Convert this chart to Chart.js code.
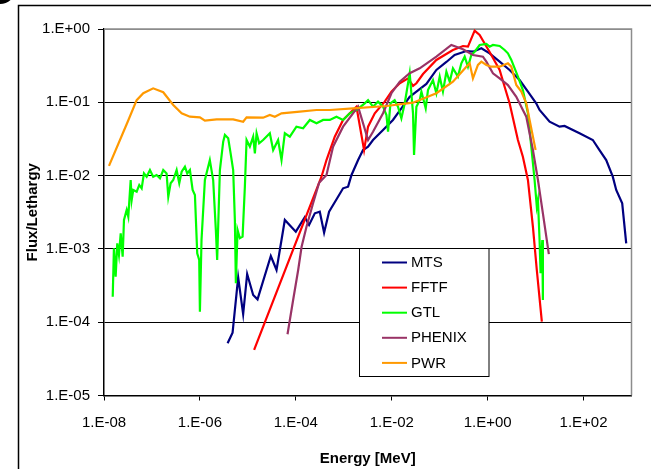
<!DOCTYPE html>
<html>
<head>
<meta charset="utf-8">
<script src="https://cdn.jsdelivr.net/npm/chart.js@4.4.1/dist/chart.umd.min.js"></script>
<style>
  html, body { margin: 0; padding: 0; background: #fff; }
  #wrap { position: relative; width: 651px; height: 469px; overflow: hidden; }
  canvas { position: absolute; left: 0; top: 0; }
</style>
</head>
<body>
<div id="wrap"><canvas id="c" width="651" height="469"></canvas></div>
<script>
// ---- Data ----
const seriesNames  = ['MTS', 'FFTF', 'GTL', 'PHENIX', 'PWR'];
const seriesColors = ['#000080', '#FF0000', '#00FF00', '#993366', '#FF9900'];

const mtsEnergy = [3.78e-6,4.80e-6,6.28e-6,7.98e-6,9.67e-6,1.29e-5,1.59e-5,3.01e-5,3.96e-5,5.90e-5,1.0e-4,1.54e-4,1.89e-4,2.49e-4,3.16e-4,3.89e-4,4.94e-4,7.60e-4,9.67e-4,1.23e-3,1.45e-3,1.99e-3,2.52e-3,3.21e-3,4.07e-3,6.59e-3,0.0106,0.0159,0.0237,0.0327,0.0528,0.0853,0.138,0.205,0.360,0.494,0.740,1.10,1.78,2.87,4.64,6.92,10.3,12.1,19.6,31.6,40.2,82.5,156,215,297,407,480,640,776];
const mtsFlux   = [5.15e-5,7.19e-5,4.09e-4,1.29e-4,4.55e-4,2.35e-4,2.05e-4,8.0e-4,5.15e-4,2.48e-3,1.72e-3,2.70e-3,2.12e-3,3.06e-3,3.22e-3,1.66e-3,3.22e-3,5.15e-3,6.71e-3,7.06e-3,0.0102,0.0163,0.0223,0.0248,0.0306,0.0419,0.0574,0.0828,0.119,0.140,0.178,0.276,0.355,0.442,0.501,0.490,0.545,0.466,0.358,0.276,0.201,0.140,0.0969,0.0785,0.0543,0.0465,0.0475,0.0378,0.0306,0.0223,0.0163,9.66e-3,6.36e-3,4.19e-3,1.19e-3];

const fftfEnergy = [1.35e-5,3.43e-4,4.36e-4,6.49e-4,9.67e-4,1.56e-3,1.84e-3,2.65e-3,3.21e-3,4.43e-3,7.14e-3,9.86e-3,0.0147,0.0219,0.0278,0.0327,0.0449,0.0853,0.189,0.306,0.389,0.536,0.681,1.10,1.78,2.26,2.87,3.37,4.28,5.43,6.92,8.79,10.6,13.5];
const fftfFlux   = [4.18e-5,9.66e-3,0.0163,0.0340,0.0574,0.0785,0.0871,0.0223,0.0465,0.0708,0.102,0.140,0.182,0.212,0.167,0.182,0.243,0.378,0.517,0.586,0.574,0.948,0.828,0.485,0.276,0.163,0.0969,0.0611,0.0306,0.0181,8.71e-3,2.01e-3,5.15e-4,1.02e-4];

const gtlEnergy = [1.52e-8,1.61e-8,1.75e-8,1.89e-8,2.05e-8,2.23e-8,2.45e-8,2.61e-8,2.97e-8,3.21e-8,3.60e-8,3.78e-8,4.07e-8,4.80e-8,5.44e-8,6.10e-8,6.81e-8,7.76e-8,9.08e-8,1.06e-7,1.25e-7,1.47e-7,1.72e-7,2.02e-7,2.19e-7,2.45e-7,2.78e-7,3.27e-7,3.71e-7,4.16e-7,4.87e-7,5.44e-7,6.19e-7,7.05e-7,7.87e-7,8.79e-7,9.67e-7,1.0e-6,1.08e-6,1.27e-6,1.61e-6,1.89e-6,2.15e-6,2.29e-6,2.61e-6,3.06e-6,3.32e-6,3.89e-6,4.37e-6,4.94e-6,5.36e-6,5.62e-6,6.10e-6,6.81e-6,7.76e-6,8.66e-6,9.40e-6,1.10e-5,1.29e-5,1.40e-5,1.52e-5,1.72e-5,2.08e-5,2.87e-5,3.37e-5,4.27e-5,5.03e-5,5.90e-5,7.50e-5,1.03e-4,1.42e-4,1.96e-4,2.70e-4,3.71e-4,5.11e-4,7.04e-4,9.67e-4,1.33e-3,1.84e-3,2.74e-3,3.21e-3,4.07e-3,5.18e-3,6.59e-3,7.76e-3,8.38e-3,9.40e-3,0.0115,0.0135,0.0159,0.0187,0.0237,0.0278,0.0292,0.0327,0.0383,0.0416,0.0511,0.0570,0.0724,0.0853,0.100,0.117,0.138,0.162,0.189,0.240,0.283,0.332,0.389,0.457,0.536,0.681,0.940,1.10,1.29,1.78,2.26,2.65,3.12,4.28,5.43,6.92,8.13,9.53,10.6,11.2,12.1,12.7,13.8,14.2];
const gtlFlux   = [2.23e-4,1.02e-3,4.18e-4,1.19e-3,8.26e-4,1.63e-3,7.83e-4,2.48e-3,3.40e-3,2.75e-3,8.71e-3,4.65e-3,6.36e-3,6.03e-3,7.45e-3,6.71e-3,0.0107,9.66e-3,0.0119,9.66e-3,0.0102,9.19e-3,0.0119,0.0107,5.15e-3,7.85e-3,8.71e-3,0.0119,7.85e-3,0.0113,0.0132,0.0107,0.0119,6.36e-3,5.44e-3,8.71e-4,7.06e-4,1.39e-4,1.32e-3,8.71e-3,0.0163,8.71e-3,1.81e-3,7.06e-4,0.0119,0.0290,0.0358,0.0323,0.0201,0.0119,2.48e-3,3.40e-4,1.81e-3,1.40e-3,1.47e-3,7.06e-3,0.0306,0.0248,0.0340,0.0201,0.0378,0.0276,0.0306,0.0378,0.0223,0.0306,0.0163,0.0378,0.0340,0.0465,0.0442,0.0574,0.0517,0.0574,0.0574,0.0636,0.0574,0.0708,0.0785,0.0969,0.107,0.0871,0.102,0.0871,0.0671,0.0397,0.0969,0.107,0.0871,0.0605,0.0969,0.249,0.0708,0.0191,0.0871,0.107,0.140,0.0828,0.147,0.201,0.133,0.224,0.140,0.261,0.191,0.291,0.224,0.340,0.419,0.306,0.442,0.490,0.605,0.624,0.574,0.605,0.586,0.517,0.466,0.378,0.224,0.147,0.0708,0.0248,8.71e-3,3.77e-3,4.65e-3,1.32e-3,4.65e-4,1.32e-3,2.01e-4];

const phenixEnergy = [6.71e-5,8.79e-5,1.12e-4,1.32e-4,1.67e-4,2.29e-4,3.06e-4,4.36e-4,5.98e-4,9.67e-4,1.56e-3,1.99e-3,3.21e-3,4.07e-3,6.59e-3,9.86e-3,0.0147,0.0237,0.0383,0.0853,0.175,0.306,0.494,0.798,0.940,1.29,1.78,2.65,3.96,5.43,6.40,8.79,11.2,14.2,18.9];
const phenixFlux   = [6.84e-5,2.01e-4,5.15e-4,1.07e-3,2.01e-3,4.19e-3,8.0e-3,0.0102,0.0248,0.0465,0.0708,0.0871,0.0306,0.0397,0.0708,0.133,0.191,0.249,0.291,0.419,0.605,0.528,0.442,0.419,0.358,0.249,0.212,0.172,0.119,0.0785,0.0636,0.0223,8.71e-3,3.06e-3,8.51e-4];

const pwrEnergy = [1.27e-8,3.12e-8,4.80e-8,6.59e-8,1.06e-7,1.72e-7,2.78e-7,4.16e-7,6.19e-7,1.0e-6,1.27e-6,2.23e-6,4.94e-6,7.98e-6,9.40e-6,2.08e-5,2.87e-5,3.65e-5,5.03e-5,1.21e-4,2.70e-4,5.11e-4,1.56e-3,7.76e-3,0.0278,0.0853,0.189,0.360,0.422,0.494,0.628,0.740,0.940,1.19,1.78,2.65,3.12,3.96,5.04,6.40,7.50,10.0];
const pwrFlux   = [0.0136,0.0543,0.107,0.133,0.155,0.137,0.0919,0.0708,0.0636,0.0624,0.0561,0.0586,0.0586,0.0543,0.0624,0.0617,0.0671,0.0636,0.0708,0.0745,0.0785,0.0785,0.0828,0.0891,0.0988,0.133,0.191,0.306,0.340,0.212,0.323,0.358,0.323,0.306,0.306,0.340,0.306,0.172,0.140,0.0969,0.0574,0.0223];

const xTickValues = [1e-8, 1e-6, 1e-4, 1e-2, 1e0, 1e2];
const xTickLabels = ['1.E-08', '1.E-06', '1.E-04', '1.E-02', '1.E+00', '1.E+02'];
const yTickValues = [1e-5, 1e-4, 1e-3, 1e-2, 1e-1, 1e0];
const yTickLabels = ['1.E-05', '1.E-04', '1.E-03', '1.E-02', '1.E-01', '1.E+00'];

const xTitle = 'Energy [MeV]';
const yTitle = 'Flux/Lethargy';

// ---- Build chart ----
const pairs = (xs, ys) => xs.map((x, i) => ({ x: x, y: ys[i] }));
const seriesData = [
  pairs(mtsEnergy, mtsFlux),
  pairs(fftfEnergy, fftfFlux),
  pairs(gtlEnergy, gtlFlux),
  pairs(phenixEnergy, phenixFlux),
  pairs(pwrEnergy, pwrFlux)
];

const FONT = "'Liberation Sans', Arial, sans-serif";
Chart.defaults.font.family = FONT;
Chart.defaults.color = '#000';

const datasets = seriesNames.map((name, i) => ({
  label: name,
  data: seriesData[i],
  borderColor: seriesColors[i],
  backgroundColor: seriesColors[i],
  borderWidth: 2.2,
  pointRadius: 0,
  showLine: true,
  tension: 0,
  fill: false,
  order: seriesNames.length - 1 - i
}));

const framePlugin = {
  id: 'frame',
  beforeDraw(chart) {
    const ctx = chart.ctx;
    ctx.save();
    ctx.fillStyle = '#fff';
    ctx.fillRect(0, 0, chart.width, chart.height);
    ctx.strokeStyle = '#000';
    ctx.lineWidth = 1.5;
    ctx.beginPath();
    ctx.moveTo(18.5, chart.height);
    ctx.lineTo(18.5, 5.5);
    ctx.lineTo(chart.width, 5.5);
    ctx.stroke();
    ctx.fillStyle = '#000';
    ctx.beginPath();
    ctx.arc(0, -12, 16, 0, Math.PI * 2);
    ctx.fill();
    ctx.restore();
  },
  beforeDatasetsDraw(chart) {
    const a = chart.chartArea;
    const ctx = chart.ctx;
    ctx.save();
    ctx.strokeStyle = '#8c8c8c';
    ctx.lineWidth = 1.5;
    ctx.beginPath();
    ctx.moveTo(a.left, a.top);
    ctx.lineTo(a.right, a.top);
    ctx.lineTo(a.right, a.bottom);
    ctx.stroke();
    ctx.restore();
  },
  afterDraw(chart) {
    const ctx = chart.ctx;
    const bx = 359.5, by = 248.5, bw = 129.5, bh = 128;
    ctx.save();
    ctx.fillStyle = '#fff';
    ctx.fillRect(bx, by, bw, bh);
    ctx.strokeStyle = '#000';
    ctx.lineWidth = 1;
    ctx.strokeRect(bx, by, bw, bh);
    ctx.font = '15px ' + FONT;
    ctx.textBaseline = 'middle';
    ctx.textAlign = 'left';
    seriesNames.forEach((name, i) => {
      const y = 262.5 + i * 25.1;
      ctx.strokeStyle = seriesColors[i];
      ctx.lineWidth = 2;
      ctx.beginPath();
      ctx.moveTo(382, y);
      ctx.lineTo(407, y);
      ctx.stroke();
      ctx.fillStyle = '#000';
      ctx.fillText(name, 411, y + 0.5);
    });
    ctx.restore();
  }
};

new Chart(document.getElementById('c'), {
  type: 'scatter',
  data: { datasets: datasets },
  plugins: [framePlugin],
  options: {
    responsive: false,
    animation: false,
    devicePixelRatio: 1,
    layout: { padding: { left: 0, top: 29, right: 19.5, bottom: 0 } },
    plugins: { legend: { display: false }, tooltip: { enabled: false } },
    scales: {
      x: {
        type: 'logarithmic',
        min: 1e-8,
        max: 1e3,
        afterBuildTicks: (s) => { s.ticks = xTickValues.map(v => ({ value: v })); },
        afterFit: (s) => { s.height = 73.5; },
        ticks: {
          autoSkip: false,
          maxRotation: 0,
          padding: 13,
          font: { size: 15 },
          color: '#000',
          callback: (v, i) => xTickLabels[i]
        },
        grid: { drawOnChartArea: false, drawTicks: true, tickLength: 5, tickColor: '#000', lineWidth: 1 },
        border: { display: true, color: '#000', width: 1.5 },
        title: { display: true, text: xTitle, font: { size: 15, weight: 'bold' }, color: '#000', padding: { top: 0, bottom: 1 } }
      },
      y: {
        type: 'logarithmic',
        min: 1e-5,
        max: 1,
        afterBuildTicks: (s) => { s.ticks = yTickValues.map(v => ({ value: v })); },
        afterFit: (s) => { s.width = 104; },
        ticks: {
          autoSkip: false,
          padding: 8,
          font: { size: 15 },
          color: '#000',
          callback: (v, i) => yTickLabels[i]
        },
        grid: {
          drawOnChartArea: true,
          drawTicks: true,
          tickLength: 6,
          tickColor: '#000',
          lineWidth: 1,
          color: (c) => (c.tick && c.tick.value >= 0.99) ? '#8c8c8c' : '#000'
        },
        border: { display: true, color: '#000', width: 1.5 },
        title: { display: true, text: yTitle, font: { size: 15, weight: 'bold' }, color: '#000', padding: { top: 24, bottom: 0 } }
      }
    }
  }
});
</script>
</body>
</html>
